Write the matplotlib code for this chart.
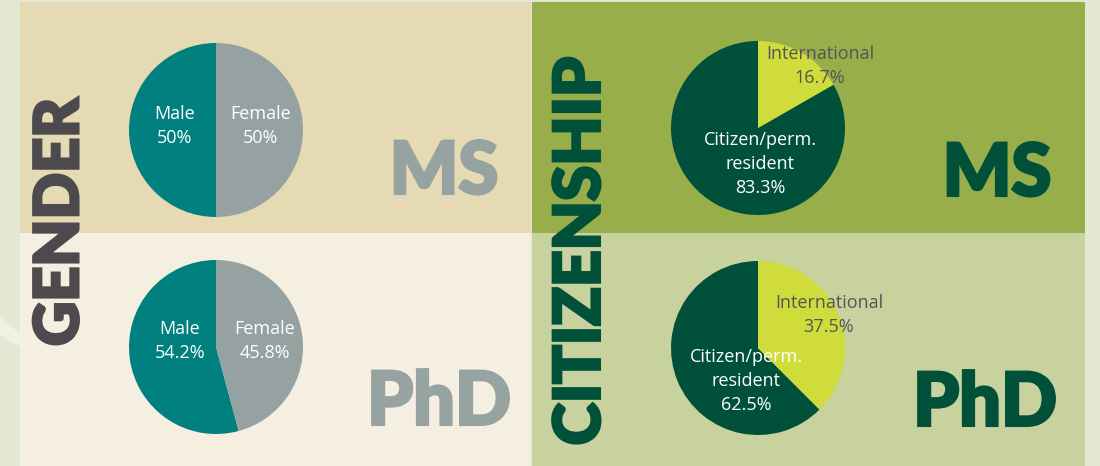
import matplotlib.pyplot as plt
import matplotlib.patheffects as pe
from matplotlib.patches import Rectangle, Polygon

# data
gender_labels = ['Male', 'Female']
gender_ms = [50, 50]
gender_phd = [54.2, 45.8]
gender_ms_txt = ['50%', '50%']
gender_phd_txt = ['54.2%', '45.8%']

cit_labels = ['Citizen/perm.\nresident', 'International']
cit_ms = [83.3, 16.7]
cit_phd = [62.5, 37.5]

W, H = 1100, 466
fig = plt.figure(figsize=(11, 4.66), dpi=100)
fig.patch.set_facecolor('#e2e8d2')
ax = fig.add_axes([0, 0, 1, 1])
ax.set_axis_off()

def Y(y):  # pixel from top -> data
    return H - y

# decorative swoosh on the left
ax.add_patch(Polygon([(0, Y(316)), (10, Y(325)), (20, Y(334)), (20, Y(346)),
                      (10, Y(342)), (0, Y(334))], closed=True,
                     facecolor='#eef2e4', edgecolor='none', zorder=0))

# panels
ax.add_patch(Rectangle((20, Y(233)), 511, 231, facecolor='#e6dab5', edgecolor='none', zorder=1))
ax.add_patch(Rectangle((20, Y(466)), 511, 233, facecolor='#f5efe2', edgecolor='none', zorder=1))
ax.add_patch(Rectangle((532, Y(233)), 553, 231, facecolor='#97ae4a', edgecolor='none', zorder=1))
ax.add_patch(Rectangle((532, Y(466)), 553, 233, facecolor='#c8d29e', edgecolor='none', zorder=1))

g_cols = ['#00807f', '#95a2a1']
c_cols = ['#00503a', '#cfdc3c']
R = 87

for vals, cy in [(gender_ms, 130), (gender_phd, 347)]:
    w, _ = ax.pie(vals, colors=g_cols, startangle=90, counterclock=True,
                  center=(216, Y(cy)), radius=R, frame=True,
                  wedgeprops=dict(linewidth=0))
    for p in w:
        p.set_zorder(2)
for vals, cy in [(cit_ms, 128), (cit_phd, 348)]:
    w, _ = ax.pie(vals, colors=c_cols, startangle=90, counterclock=True,
                  center=(758, Y(cy)), radius=R, frame=True,
                  wedgeprops=dict(linewidth=0))
    for p in w:
        p.set_zorder(2)

ax.set_xlim(0, W)
ax.set_ylim(0, H)
ax.set_aspect('auto')

sfont = dict(family=['Open Sans', 'DejaVu Sans'], fontsize=13, ha='center',
             va='center', linespacing=1.45, zorder=3)

# gender labels
ax.text(175, Y(126), gender_labels[0] + '\n' + gender_ms_txt[0], color='white', **sfont)
ax.text(261, Y(126), gender_labels[1] + '\n' + gender_ms_txt[1], color='white', **sfont)
ax.text(180, Y(341), gender_labels[0] + '\n' + gender_phd_txt[0], color='white', **sfont)
ax.text(265, Y(341), gender_labels[1] + '\n' + gender_phd_txt[1], color='white', **sfont)

# citizenship labels
ax.text(760, Y(164), cit_labels[0] + '\n%.1f%%' % cit_ms[0], color='white', **sfont)
ax.text(820, Y(66), cit_labels[1] + '\n%.1f%%' % cit_ms[1], color='#555555', **sfont)
ax.text(746, Y(381), cit_labels[0] + '\n%.1f%%' % cit_phd[0], color='white', **sfont)
ax.text(829, Y(315), cit_labels[1] + '\n%.1f%%' % cit_phd[1], color='#555555', **sfont)

# big headings
bfont = dict(family=['Lato', 'DejaVu Sans'], fontweight='black', ha='center', va='center', zorder=3)

def heavy(c, lw=2.2):
    return [pe.withStroke(linewidth=lw, foreground=c, joinstyle='miter')]

ax.text(60, Y(222), 'GENDER', rotation=90, fontsize=44, color='#4d4a4e',
        path_effects=heavy('#4d4a4e'), **bfont)
ax.text(581, Y(251), 'CITIZENSHIP', rotation=90, fontsize=46, color='#00503a',
        path_effects=heavy('#00503a'), **bfont)
ax.text(444, Y(173), 'MS', fontsize=52, color='#97a3a1', path_effects=heavy('#97a3a1'), **bfont)
ax.text(439, Y(403), 'PhD', fontsize=53, color='#97a3a1', path_effects=heavy('#97a3a1'), **bfont)
ax.text(997, Y(175), 'MS', fontsize=52, color='#00503a', path_effects=heavy('#00503a'), **bfont)
ax.text(985, Y(404), 'PhD', fontsize=53, color='#00503a', path_effects=heavy('#00503a'), **bfont)

fig.savefig('out.png', dpi=100, facecolor=fig.get_facecolor())
